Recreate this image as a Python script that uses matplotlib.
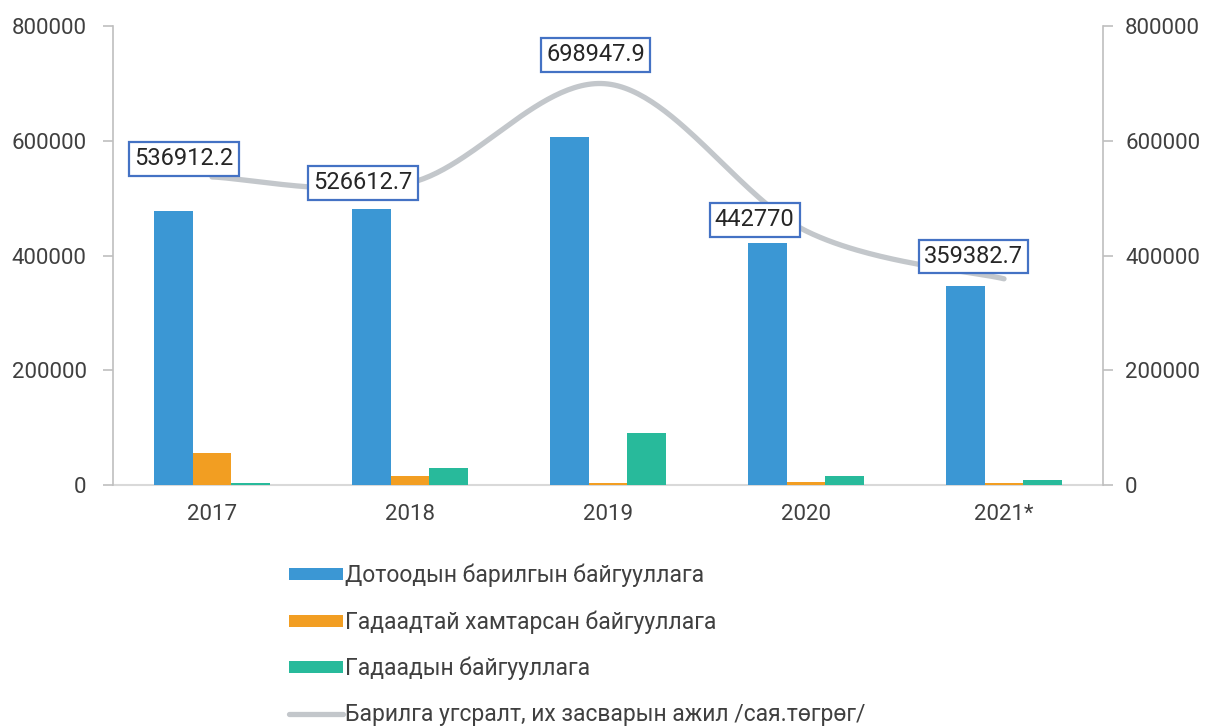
import numpy as np
import matplotlib
matplotlib.use("Agg")
import matplotlib.pyplot as plt

plt.rcParams['font.family'] = ['Roboto', 'DejaVu Sans']

years = ["2017", "2018", "2019", "2020", "2021*"]
domestic = [477500, 481000, 606500, 421800, 347000]
joint = [55000, 15000, 3200, 5000, 3200]
foreign = [4000, 30000, 90600, 16000, 8000]
total = [536912.2, 526612.7, 698947.9, 442770, 359382.7]
total_labels = ["536912.2", "526612.7", "698947.9", "442770", "359382.7"]

names = ["Дотоодын барилгын байгууллага",
         "Гадаадтай хамтарсан байгууллага",
         "Гадаадын байгууллага",
         "Барилга угсралт, их засварын ажил /сая.төгрөг/"]

c_blue = "#3B97D4"
c_orange = "#F29E22"
c_green = "#28BA9B"
c_line = "#C3C7CB"
c_box = "#4472C4"
c_text = "#404040"


def smooth_curve(x, y, n=60):
    """Excel-artige geglaettete Linie (Catmull-Rom als Bezier)."""
    x = np.asarray(x, float)
    y = np.asarray(y, float)
    xs, ys = [], []
    for i in range(len(x) - 1):
        i0 = max(i - 1, 0)
        i3 = min(i + 2, len(x) - 1)
        p0 = np.array([x[i], y[i]])
        p3 = np.array([x[i + 1], y[i + 1]])
        p1 = p0 + (np.array([x[i + 1], y[i + 1]]) - np.array([x[i0], y[i0]])) / 6
        p2 = p3 - (np.array([x[i3], y[i3]]) - np.array([x[i], y[i]])) / 6
        t = np.linspace(0, 1, n)[:, None]
        pts = ((1 - t) ** 3 * p0 + 3 * (1 - t) ** 2 * t * p1
               + 3 * (1 - t) * t ** 2 * p2 + t ** 3 * p3)
        xs.extend(pts[:, 0])
        ys.extend(pts[:, 1])
    return np.array(xs), np.array(ys)


fig = plt.figure(figsize=(12.18, 7.27), dpi=100)
ax = fig.add_axes([0.0928, 0.3329, 0.8128, 0.6313])

x = np.arange(len(years))
w = 0.194
b1 = ax.bar(x - w, domestic, w, color=c_blue, label=names[0], zorder=3)
b2 = ax.bar(x, joint, w, color=c_orange, label=names[1], zorder=3)
b3 = ax.bar(x + w, foreign, w, color=c_green, label=names[2], zorder=3)

ax.set_xlim(-0.5, len(years) - 0.5)
ax.set_ylim(0, 800000)
ax.set_yticks(np.arange(0, 800001, 200000))
ax.set_xticks(x)
ax.set_xticklabels(years)
ax.tick_params(axis='x', length=0, pad=14, labelsize=16, labelcolor=c_text)
ax.tick_params(axis='y', length=7, width=1.2, color="#BFBFBF", pad=12,
               labelsize=16, labelcolor=c_text)
ax.spines['top'].set_visible(False)
ax.spines['right'].set_visible(False)
ax.spines['left'].set_color("#BFBFBF")
ax.spines['left'].set_linewidth(1.2)
ax.spines['bottom'].set_color("#D9D9D9")
ax.spines['bottom'].set_linewidth(1.5)
ax.spines['bottom'].set_zorder(1)

ax2 = ax.twinx()
ax2.set_ylim(0, 800000)
ax2.set_yticks(np.arange(0, 800001, 200000))
ax2.tick_params(axis='y', length=7, width=1.2, color="#BFBFBF", pad=9,
                labelsize=16, labelcolor=c_text)
for s in ['top', 'left', 'bottom']:
    ax2.spines[s].set_visible(False)
ax2.spines['right'].set_color("#BFBFBF")
ax2.spines['right'].set_linewidth(1.2)

sx, sy = smooth_curve(x, total)
line, = ax2.plot(sx, sy, color=c_line, linewidth=3.8, solid_capstyle='round',
                 label=names[3])

offsets = [(-20, 13), (-34, 0), (-9, 21), (-37, 8), (-22, 16)]
for xi, yi, lab, off in zip(x, total, total_labels, offsets):
    ax2.annotate(lab, (xi, yi), xytext=off, textcoords='offset points',
                 ha='center', va='center', fontsize=17, color="#262626",
                 bbox=dict(boxstyle='square,pad=0.22', fc='white',
                           ec=c_box, lw=1.6))

fig.legend([b1, b2, b3, line], names, loc='upper left',
           bbox_to_anchor=(0.228, 0.240), frameon=False, fontsize=16.5,
           labelcolor=c_text, handlelength=2.35, handleheight=0.45,
           handletextpad=0.1, labelspacing=1.0, borderpad=0)

fig.savefig("out.png", dpi=100)
